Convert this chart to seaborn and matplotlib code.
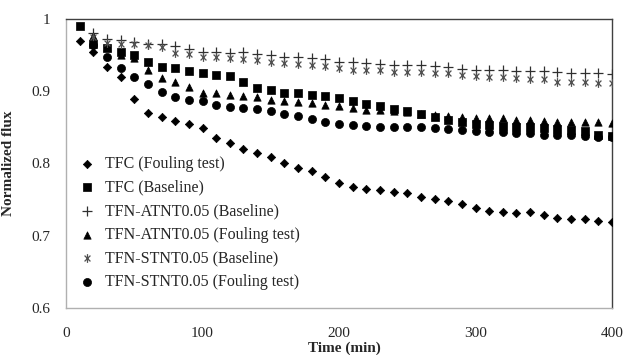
import numpy as np
import pandas as pd
import matplotlib
matplotlib.use("Agg")
import matplotlib.pyplot as plt
from matplotlib.path import Path
import seaborn as sns

# ---------------- data ----------------
time_full = list(range(10, 410, 10))
time_late = list(range(20, 410, 10))

tfc_fouling = [0.970, 0.954, 0.934, 0.920, 0.889, 0.870, 0.864, 0.859, 0.854, 0.849,
               0.835, 0.829, 0.820, 0.815, 0.809, 0.801, 0.794, 0.790, 0.781, 0.773,
               0.768, 0.765, 0.764, 0.761, 0.759, 0.754, 0.751, 0.748, 0.744, 0.739,
               0.734, 0.733, 0.732, 0.733, 0.729, 0.724, 0.723, 0.723, 0.721, 0.719]
tfc_baseline = [0.990, 0.965, 0.960, 0.955, 0.950, 0.940, 0.934, 0.932, 0.928, 0.925,
                0.922, 0.921, 0.913, 0.905, 0.902, 0.898, 0.897, 0.895, 0.893, 0.890,
                0.886, 0.883, 0.880, 0.876, 0.872, 0.868, 0.864, 0.860, 0.857, 0.855,
                0.853, 0.852, 0.851, 0.850, 0.849, 0.848, 0.847, 0.845, 0.840, 0.838]
atnt_baseline = [0.980, 0.972, 0.971, 0.968, 0.966, 0.965, 0.962, 0.958, 0.955, 0.955,
                 0.953, 0.954, 0.952, 0.950, 0.948, 0.948, 0.946, 0.944, 0.940, 0.940,
                 0.939, 0.938, 0.937, 0.936, 0.937, 0.935, 0.933, 0.931, 0.930, 0.929,
                 0.929, 0.928, 0.928, 0.928, 0.926, 0.925, 0.925, 0.925, 0.924]
atnt_fouling = [0.976, 0.961, 0.950, 0.946, 0.930, 0.918, 0.913, 0.906, 0.898, 0.897,
                0.895, 0.893, 0.892, 0.888, 0.887, 0.885, 0.884, 0.881, 0.879, 0.877,
                0.874, 0.874, 0.873, 0.871, 0.868, 0.867, 0.866, 0.865, 0.863, 0.863,
                0.863, 0.860, 0.860, 0.859, 0.858, 0.858, 0.858, 0.857, 0.856]
stnt_baseline = [0.975, 0.967, 0.966, 0.965, 0.964, 0.961, 0.953, 0.952, 0.948, 0.947,
                 0.946, 0.945, 0.943, 0.941, 0.939, 0.938, 0.937, 0.935, 0.932, 0.930,
                 0.929, 0.929, 0.927, 0.926, 0.926, 0.925, 0.925, 0.923, 0.921, 0.920,
                 0.920, 0.919, 0.917, 0.917, 0.913, 0.913, 0.913, 0.912, 0.911]
stnt_fouling = [0.964, 0.947, 0.932, 0.920, 0.910, 0.899, 0.892, 0.888, 0.886, 0.881,
                0.878, 0.877, 0.876, 0.872, 0.869, 0.866, 0.861, 0.858, 0.855, 0.853,
                0.852, 0.851, 0.851, 0.851, 0.850, 0.849, 0.848, 0.847, 0.845, 0.844,
                0.844, 0.842, 0.842, 0.839, 0.839, 0.839, 0.838, 0.837, 0.836]

labels = ["TFC (Fouling test)", "TFC (Baseline)", "TFN-ATNT0.05 (Baseline)",
          "TFN-ATNT0.05 (Fouling test)", "TFN-STNT0.05 (Baseline)",
          "TFN-STNT0.05 (Fouling test)"]

x_ticks = [0, 100, 200, 300, 400]
y_ticks = [0.6, 0.7, 0.8, 0.9, 1.0]
y_tick_labels = ["0.6", "0.7", "0.8", "0.9", "1"]

# ---------------- style ----------------
sns.set_theme(style="white")
plt.rcParams["font.family"] = ["Liberation Serif", "DejaVu Serif"]

# Excel-like star marker: X plus vertical bar
star_path = Path(
    [(-0.5, -0.5), (0.5, 0.5), (-0.5, 0.5), (0.5, -0.5), (0, -0.75), (0, 0.75)],
    [Path.MOVETO, Path.LINETO, Path.MOVETO, Path.LINETO, Path.MOVETO, Path.LINETO],
)

series = [
    (time_full, tfc_fouling, "D", 18, "black", 0.5),
    (time_full, tfc_baseline, "s", 32, "black", 0.5),
    (time_late, atnt_baseline, "+", 45, "#303030", 0.9),
    (time_late, atnt_fouling, "^", 28, "black", 0.5),
    (time_late, stnt_baseline, star_path, 40, "#505050", 0.9),
    (time_late, stnt_fouling, "o", 34, "black", 0.5),
]

fig = plt.figure(figsize=(6.23, 3.55), dpi=100)
ax = fig.add_axes([66 / 623, 1 - 308 / 355, (612 - 66) / 623, (308 - 19) / 355])

for (t, v, m, s, c, lw), lab in zip(series, labels):
    df = pd.DataFrame({"t": t, "v": v})
    sns.scatterplot(data=df, x="t", y="v", marker=m, s=s, color=c,
                    edgecolor=c, linewidth=lw, label=lab, ax=ax, zorder=3)

ax.set_xlim(0, 400)
ax.set_ylim(0.6, 1.0)
ax.set_xticks(x_ticks)
ax.set_xticklabels([str(v) for v in x_ticks])
ax.set_yticks(y_ticks)
ax.set_yticklabels(y_tick_labels)

ax.tick_params(axis="x", direction="in", length=4, width=0.8, color="#a0a0a0",
               pad=14, labelsize=11, labelcolor="#262626")
ax.tick_params(axis="y", direction="in", length=4, width=0.8, color="#a0a0a0",
               pad=11, labelsize=11, labelcolor="#262626")

for side in ["left", "bottom"]:
    ax.spines[side].set_color("#b0b0b0")
    ax.spines[side].set_linewidth(1.0)
for side in ["top", "right"]:
    ax.spines[side].set_color("#404040")
    ax.spines[side].set_linewidth(1.0)
    ax.spines[side].set_visible(True)

ax.set_xlabel("Time (min)", fontsize=11, fontweight="bold")
ax.xaxis.label.set_va("center")
ax.xaxis.set_label_coords(0.51, -0.138)
ax.set_ylabel("Normalized flux", fontsize=11, fontweight="bold", labelpad=12)

leg = ax.legend(loc="upper left", bbox_to_anchor=(0.01, 0.548), frameon=False,
                fontsize=11.5, handletextpad=0.5, labelspacing=0.48,
                borderaxespad=0.0, handlelength=1.2)

fig.savefig("out.png", dpi=100)
